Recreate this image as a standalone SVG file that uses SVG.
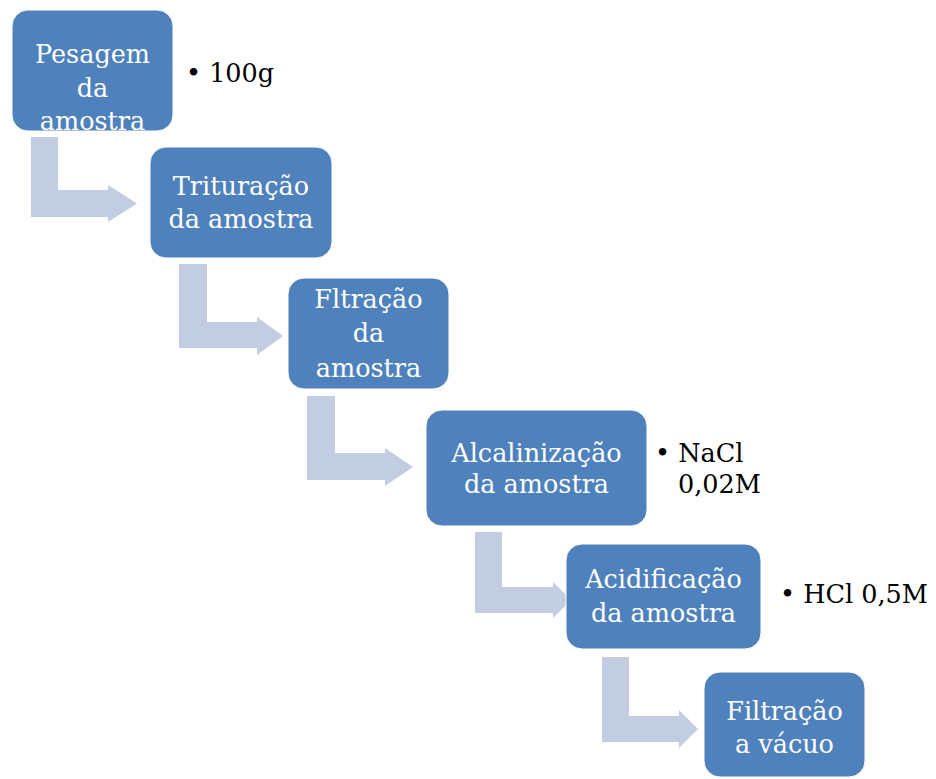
<svg xmlns="http://www.w3.org/2000/svg" width="936" height="779" viewBox="0 0 936 779">
<style>
.box{fill:#4f81bd;stroke:#ffffff;stroke-width:1}
.arr{fill:#c3cde2}
.t{font-family:"DejaVu Serif","Liberation Serif",serif;font-size:25.5px;fill:#ffffff;text-anchor:middle}
.b{font-family:"DejaVu Serif","Liberation Serif",serif;font-size:25.5px;fill:#000000}
</style>
<rect width="936" height="779" fill="#ffffff"/>
<g id="connectors">
<polygon class="arr" points="31,137 58,137 58,190 108,190 108,185 137,203.5 108,222 108,217 31,217"/>
<polygon class="arr" points="179,264 207,264 207,322 257,322 257,317 283,336 257,355 257,348 179,348"/>
<polygon class="arr" points="307,396 335,396 335,453 385,453 385,448 413,467 385,486 385,480 307,480"/>
<polygon class="arr" points="475,532 502,532 502,587 553,587 553,582 571,600 553,618 553,613 475,613"/>
<polygon class="arr" points="602,657 629,657 629,716 679,716 679,710 698,729 679,748 679,742 602,742"/>
</g>
<g id="n1">
<rect class="box" x="12" y="10" width="161" height="121" rx="16"/>
<text class="t" x="92.5" y="63">Pesagem</text>
<text class="t" x="92.5" y="97">da</text>
<text class="t" x="92.5" y="130">amostra</text>
</g>
<g id="b1">
<text class="b" x="186" y="82">• 100g</text>
</g>
<g id="n2">
<rect class="box" x="150" y="147" width="182" height="111" rx="16"/>
<text class="t" x="241" y="195">Trituração</text>
<text class="t" x="241" y="228">da amostra</text>
</g>
<g id="n3">
<rect class="box" x="288" y="278" width="161" height="111" rx="16"/>
<text class="t" x="368.5" y="308">Fltração</text>
<text class="t" x="368.5" y="342">da</text>
<text class="t" x="368.5" y="377">amostra</text>
</g>
<g id="n4">
<rect class="box" x="426" y="410" width="221" height="116" rx="16"/>
<text class="t" x="536.5" y="462">Alcalinização</text>
<text class="t" x="536.5" y="493">da amostra</text>
</g>
<g id="b4">
<text class="b" x="655" y="462">• NaCl</text>
<text class="b" x="678" y="493">0,02M</text>
</g>
<g id="n5">
<rect class="box" x="566" y="544" width="195" height="105" rx="16"/>
<text class="t" x="663.5" y="588">Acidificação</text>
<text class="t" x="663.5" y="622">da amostra</text>
</g>
<g id="b5">
<text class="b" x="780" y="603">• HCl 0,5M</text>
</g>
<g id="n6">
<rect class="box" x="704" y="672" width="161" height="105" rx="16"/>
<text class="t" x="784.5" y="720">Filtração</text>
<text class="t" x="784.5" y="753">a vácuo</text>
</g>
</svg>
